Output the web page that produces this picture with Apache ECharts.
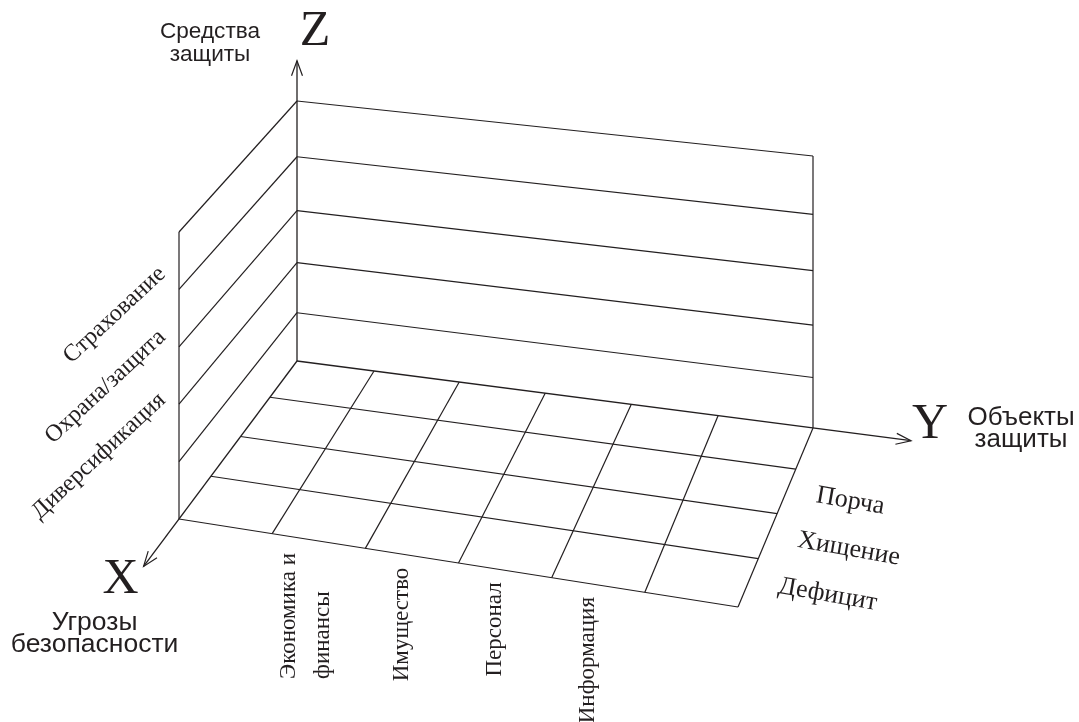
<!DOCTYPE html>
<html>
<head>
<meta charset="utf-8">
<script src="https://cdn.jsdelivr.net/npm/echarts@6/dist/echarts.min.js"></script>
<style>
html,body{margin:0;padding:0;background:#fff;}
#chart{width:1079px;height:722px;}
</style>
</head>
<body>
<div id="chart"></div>
<script>
// ---------------- DATA ----------------
// X axis: threats (floor rows, back -> front); first row unlabeled
const threats = ['', 'Порча', 'Хищение', 'Дефицит'];
// Y axis: objects of protection (floor columns, left -> right); first and last unlabeled
const objects = ['', 'Экономика и\nфинансы', 'Имущество', 'Персонал', 'Информация', ''];
// Z axis: means of protection (wall levels, bottom -> top)
const means = ['', '', 'Диверсификация', 'Охрана/защита', 'Страхование'];
// axis letters and titles (X, Y, Z)
const axisLetters = ['X', 'Y', 'Z'];
const axisTitles = ['Угрозы\nбезопасности', 'Объекты\nзащиты', 'Средства\nзащиты'];

// ---------------- LAYOUT ----------------
const W = 1079, H = 722;
const INK = '#231f20';
const SERIF = '"Liberation Serif", "Times New Roman", serif';
const SANS = '"Liberation Sans", Arial, sans-serif';
// projected corners of the unit box (x: back->front, y: left->right, z: bottom->top)
const CORNER = {
  '000': [297, 361], '010': [813, 428], '100': [179, 519], '110': [738, 607],
  '001': [297, 101], '011': [813, 156], '101': [179, 232], '111': [738, 320]
};
const AXIS_END = [1.3, 1.19, 1.155];
const ARROW_LEN = 16, ARROW_ANG = 20 * Math.PI / 180;

function lerp(a, b, t) { return [a[0] + (b[0] - a[0]) * t, a[1] + (b[1] - a[1]) * t]; }
function clamp01(v) { return Math.min(Math.max(v, 0), 1); }
// hand-drawn look: slight non-uniform spacing of the original drawing
function P(x, y, z) {
  const xc = clamp01(x), yc = clamp01(y), zc = clamp01(z);
  const zw = z - 0.09 * (1 - xc) * zc * (1 - zc);
  const yw = y - 0.019 * (1 - xc) * (1 - Math.pow(2 * yc - 1, 6));
  const xw = x - 0.022 * (1 - Math.pow(2 * xc - 1, 4));
  const c = (i, j, k) => CORNER['' + i + j + k];
  const b0 = lerp(lerp(c(0, 0, 0), c(0, 1, 0), yw), lerp(c(1, 0, 0), c(1, 1, 0), yw), xw);
  const b1 = lerp(lerp(c(0, 0, 1), c(0, 1, 1), yw), lerp(c(1, 0, 1), c(1, 1, 1), yw), xw);
  return lerp(b0, b1, zw);
}

const nx = threats.length, ny = objects.length, nz = means.length;

// grid segments built from category counts
const gridSegs = [];
for (let i = 1; i <= nx; i++) gridSegs.push([i / nx, 0, 0, i / nx, 1, 0]);
for (let j = 1; j <= ny; j++) gridSegs.push([0, j / ny, 0, 1, j / ny, 0]);
for (let k = 1; k <= nz; k++) {
  gridSegs.push([0, 0, k / nz, 0, 1, k / nz]);
  gridSegs.push([1, 0, k / nz, 0, 0, k / nz]);
}
gridSegs.push([0, 1, 0, 0, 1, 1]);
gridSegs.push([1, 0, 0, 1, 0, 1]);

const axisSegs = [
  [0, 0, 0, AXIS_END[0], 0, 0],
  [0, 0, 0, 0, AXIS_END[1], 0],
  [0, 0, 0, 0, 0, AXIS_END[2]]
];

// label points
const MEANS_SPREAD = 1.1;
const threatPts = [], objectPts = [], meansPts = [];
threats.forEach((t, i) => { if (t) threatPts.push({ name: t, value: [(i + 0.5) / nx, 1, 0] }); });
objects.forEach((t, j) => { if (t) objectPts.push({ name: t, value: [1, (j + 0.5) / ny, 0] }); });
const meansIdx = means.map((t, k) => t ? k : -1).filter(k => k >= 0);
const meansMid = meansIdx.reduce((s, k) => s + k, 0) / meansIdx.length;
meansIdx.forEach(k => {
  const kk = meansMid + (k - meansMid) * MEANS_SPREAD;
  meansPts.push({ name: means[k], value: [1, 0, (kk + 0.5) / nz] });
});

const measureCtx = document.createElement('canvas').getContext('2d');
function textWidth(s, font) { measureCtx.font = font; return measureCtx.measureText(s).width; }

const chart = echarts.init(document.getElementById('chart'));

function proj(api, x, y, z) { return api.coord(P(x, y, z)); }

const FS_OBJ = 23, FS_THR = 26, FS_MEANS = 24;
const LETTER_FS = 50;
const TITLE_FS = [26.5, 26, 22.6];
const TITLE_LH = [22, 22, 23];
const LETTER_OFF = [[-23, 13], [19, -16], [18, -29]];
const TITLE_OFF = [[-49, 67], [110, -12], [-87, -17.5]];

const option = {
  animation: false,
  backgroundColor: '#fff',
  grid: { left: 0, right: 0, top: 0, bottom: 0 },
  xAxis: { type: 'value', min: 0, max: W, show: false },
  yAxis: { type: 'value', min: 0, max: H, inverse: true, show: false },
  series: [
    {
      type: 'custom', coordinateSystem: 'cartesian2d', silent: true,
      data: gridSegs,
      renderItem: (params, api) => {
        const a = proj(api, api.value(0), api.value(1), api.value(2));
        const b = proj(api, api.value(3), api.value(4), api.value(5));
        return { type: 'line', shape: { x1: a[0], y1: a[1], x2: b[0], y2: b[1] },
          style: { stroke: INK, lineWidth: 1.2 } };
      }
    },
    {
      type: 'custom', coordinateSystem: 'cartesian2d', silent: true,
      data: axisSegs,
      renderItem: (params, api) => {
        const a = proj(api, api.value(0), api.value(1), api.value(2));
        const b = proj(api, api.value(3), api.value(4), api.value(5));
        const dx = b[0] - a[0], dy = b[1] - a[1], L = Math.hypot(dx, dy);
        const ux = dx / L, uy = dy / L;
        const arm = (ang) => {
          const c = Math.cos(ang), s = Math.sin(ang);
          return [b[0] - ARROW_LEN * (ux * c - uy * s), b[1] - ARROW_LEN * (ux * s + uy * c)];
        };
        const i = params.dataIndex;
        return {
          type: 'group',
          children: [
            { type: 'line', shape: { x1: a[0], y1: a[1], x2: b[0], y2: b[1] }, style: { stroke: INK, lineWidth: 1.3 } },
            { type: 'polyline', shape: { points: [arm(ARROW_ANG), b, arm(-ARROW_ANG)] }, style: { stroke: INK, lineWidth: 1.2, fill: null } },
            { type: 'text', x: b[0] + LETTER_OFF[i][0], y: b[1] + LETTER_OFF[i][1],
              style: { text: axisLetters[i], fill: INK, fontSize: LETTER_FS, fontFamily: SERIF, align: 'center', verticalAlign: 'middle' } },
            { type: 'text', x: b[0] + TITLE_OFF[i][0], y: b[1] + TITLE_OFF[i][1],
              style: { text: axisTitles[i], fill: INK, fontSize: TITLE_FS[i], fontFamily: SANS, lineHeight: TITLE_LH[i], align: 'center', verticalAlign: 'middle' } }
          ]
        };
      }
    },
    {
      // threats: labels to the right of the floor rows
      type: 'custom', coordinateSystem: 'cartesian2d', silent: true,
      data: threatPts,
      renderItem: (params, api) => {
        const p = proj(api, api.value(0), api.value(1), api.value(2));
        return { type: 'text', x: p[0] + 30, y: p[1] + 4, rotation: -10 * Math.PI / 180,
          style: { text: threatPts[params.dataIndex].name, fill: INK, fontSize: FS_THR, fontFamily: SERIF, align: 'left', verticalAlign: 'middle' } };
      }
    },
    {
      // objects: vertical labels below the front edge
      type: 'custom', coordinateSystem: 'cartesian2d', silent: true,
      data: objectPts,
      renderItem: (params, api) => {
        const p = proj(api, api.value(0), api.value(1), api.value(2));
        const ax = p[0] - 10, ay = p[1] + 12;
        const font = FS_OBJ + 'px ' + SERIF;
        const lines = objectPts[params.dataIndex].name.split('\n');
        const bw = Math.max.apply(null, lines.map(s => textWidth(s, font)));
        const lh = 34;
        return {
          type: 'group',
          children: lines.map((s, n) => ({
            type: 'text', x: ax + (n - (lines.length - 1) / 2) * lh - (lines.length - 1) * 3, y: ay + bw,
            rotation: Math.PI / 2,
            style: { text: s, fill: INK, fontSize: FS_OBJ, fontFamily: SERIF, align: 'left', verticalAlign: 'middle' }
          }))
        };
      }
    },
    {
      // means: diagonal labels left of the left wall
      type: 'custom', coordinateSystem: 'cartesian2d', silent: true,
      data: meansPts,
      renderItem: (params, api) => {
        const p = proj(api, api.value(0), api.value(1), api.value(2));
        const ang = 43 * Math.PI / 180, back = 23;
        return { type: 'text', x: p[0] - back * Math.cos(ang), y: p[1] + back * Math.sin(ang), rotation: ang,
          style: { text: meansPts[params.dataIndex].name, fill: INK, fontSize: FS_MEANS, fontFamily: SERIF, align: 'right', verticalAlign: 'middle' } };
      }
    }
  ]
};
chart.setOption(option);
</script>
</body>
</html>
